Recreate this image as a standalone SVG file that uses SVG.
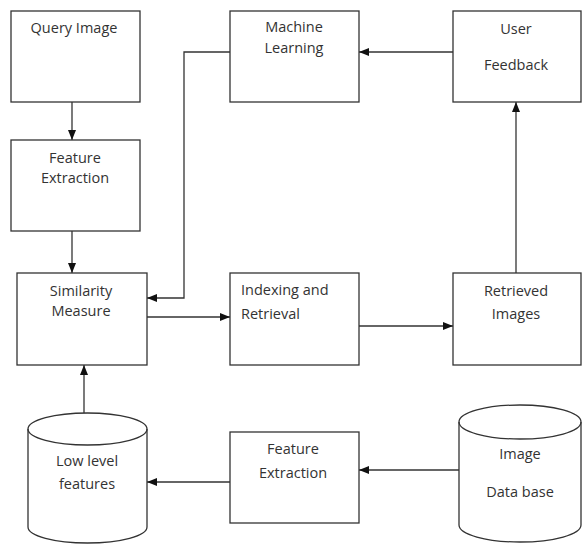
<svg xmlns="http://www.w3.org/2000/svg" width="582" height="544" viewBox="0 0 582 544">
<defs>
<marker id="ah" markerUnits="userSpaceOnUse" markerWidth="10" markerHeight="10" viewBox="0 0 10 10" refX="10" refY="5" orient="auto">
<path d="M0,1 L10,5 L0,9 Z" fill="#111"/>
</marker>
<style>
.box{fill:#fff;stroke:#333;stroke-width:1.3}
.cyl{fill:#fff;stroke:#333;stroke-width:1.3}
.t{font-family:"Open Sans","Liberation Sans",sans-serif;font-size:14.5px;fill:#333;text-anchor:middle}
.tl{font-family:"Open Sans","Liberation Sans",sans-serif;font-size:14.5px;fill:#333;text-anchor:start}
.c{fill:none;stroke:#333;stroke-width:1.3}
.ca{fill:none;stroke:#333;stroke-width:1.3;marker-end:url(#ah)}
</style>
</defs>
<rect width="582" height="544" fill="#fff"/>
<g id="connectors">
<path class="ca" d="M72,102 V140"/>
<path class="ca" d="M72,231 V273"/>
<path class="ca" d="M230,52 H184 V298 H147"/>
<path class="ca" d="M453,52 H359"/>
<path class="ca" d="M516,273 V102"/>
<path class="ca" d="M147,317 H230"/>
<path class="ca" d="M359,326 H453"/>
<path class="ca" d="M459,470 H359"/>
<path class="ca" d="M230,482 H147"/>
<path class="ca" d="M84,413 V365"/>
</g>
<g id="query-image">
<rect class="box" x="11" y="11" width="129" height="91"/>
<text class="t" x="74" y="33">Query Image</text>
</g>
<g id="feature-extraction-1">
<rect class="box" x="11" y="140" width="129" height="91"/>
<text class="t" x="75" y="163">Feature</text>
<text class="t" x="75" y="183">Extraction</text>
</g>
<g id="similarity-measure">
<rect class="box" x="17" y="273" width="130" height="92"/>
<text class="t" x="81" y="296">Similarity</text>
<text class="t" x="81" y="316">Measure</text>
</g>
<g id="machine-learning">
<rect class="box" x="230" y="11" width="129" height="91"/>
<text class="t" x="294" y="32">Machine</text>
<text class="t" x="294" y="53">Learning</text>
</g>
<g id="user-feedback">
<rect class="box" x="453" y="11" width="128" height="91"/>
<text class="t" x="516" y="34">User</text>
<text class="t" x="516" y="70">Feedback</text>
</g>
<g id="indexing-retrieval">
<rect class="box" x="230" y="273" width="129" height="92"/>
<text class="tl" x="241" y="295">Indexing and</text>
<text class="tl" x="241" y="319">Retrieval</text>
</g>
<g id="retrieved-images">
<rect class="box" x="453" y="273" width="128" height="92"/>
<text class="t" x="516" y="296">Retrieved</text>
<text class="t" x="516" y="319">Images</text>
</g>
<g id="feature-extraction-2">
<rect class="box" x="230" y="432" width="129" height="91"/>
<text class="t" x="293" y="454">Feature</text>
<text class="t" x="293" y="478">Extraction</text>
</g>
<g id="low-level-features">
<path class="cyl" d="M28,429 A59.5,16 0 0 1 147,429 L147,527 A59.5,16 0 0 1 28,527 Z"/>
<path class="c" d="M28,429 A59.5,16 0 0 0 147,429"/>
<text class="t" x="87" y="466">Low level</text>
<text class="t" x="87" y="489">features</text>
</g>
<g id="image-database">
<path class="cyl" d="M459,422 A61,17 0 0 1 581,422 L581,525 A61,17 0 0 1 459,525 Z"/>
<path class="c" d="M459,422 A61,17 0 0 0 581,422"/>
<text class="t" x="520" y="459">Image</text>
<text class="t" x="520" y="497">Data base</text>
</g>
</svg>
